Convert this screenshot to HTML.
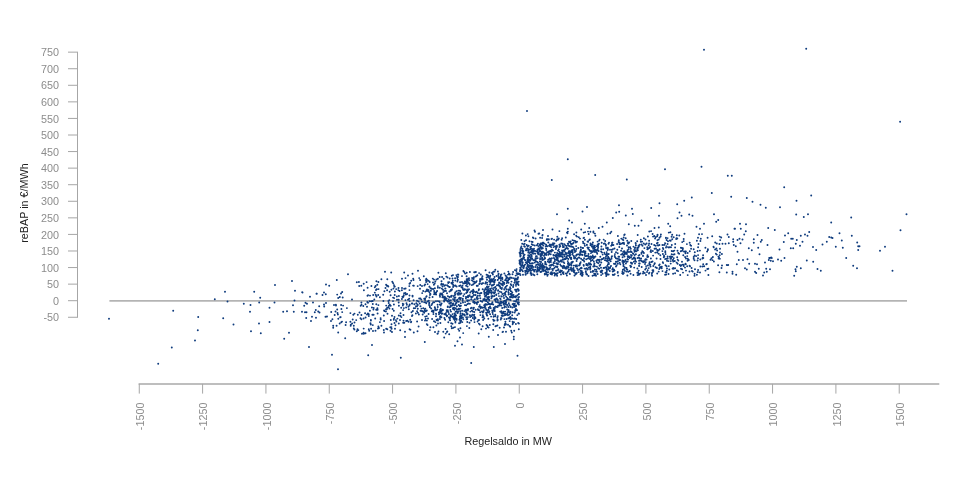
<!DOCTYPE html>
<html lang="de"><head><meta charset="utf-8"><title>reBAP vs Regelsaldo</title>
<style>html,body{margin:0;padding:0;background:#fff;}body{width:960px;height:480px;overflow:hidden;font-family:"Liberation Sans",Arial,sans-serif;}svg{display:block;}</style>
</head><body>
<svg width="960" height="480" viewBox="0 0 960 480">
<rect width="960" height="480" fill="#fff"/>
<g stroke="#a6a6a6" stroke-width="1" fill="none">
<path d="M77.5 52.15V317.27"/>
<path d="M68 52.15H78"/>
<path d="M68 68.72H78"/>
<path d="M68 85.29H78"/>
<path d="M68 101.86H78"/>
<path d="M68 118.43H78"/>
<path d="M68 135.00H78"/>
<path d="M68 151.57H78"/>
<path d="M68 168.14H78"/>
<path d="M68 184.71H78"/>
<path d="M68 201.28H78"/>
<path d="M68 217.85H78"/>
<path d="M68 234.42H78"/>
<path d="M68 250.99H78"/>
<path d="M68 267.56H78"/>
<path d="M68 284.13H78"/>
<path d="M68 300.70H78"/>
<path d="M68 317.27H78"/>
<path d="M138.6 383.9H939.3" stroke="#bebebe" stroke-width="2"/>
<path d="M139.27 383.9V393.6"/>
<path d="M202.60 383.9V393.6"/>
<path d="M265.93 383.9V393.6"/>
<path d="M329.26 383.9V393.6"/>
<path d="M392.59 383.9V393.6"/>
<path d="M455.92 383.9V393.6"/>
<path d="M519.25 383.9V393.6"/>
<path d="M582.58 383.9V393.6"/>
<path d="M645.91 383.9V393.6"/>
<path d="M709.24 383.9V393.6"/>
<path d="M772.57 383.9V393.6"/>
<path d="M835.90 383.9V393.6"/>
<path d="M899.23 383.9V393.6"/>
</g>
<path d="M109.4 300.9H907" stroke="#b4b4b4" stroke-width="1.9" fill="none"/>
<g font-family="'Liberation Sans', Arial, sans-serif" font-size="10.8" fill="#8c8c8c">
<text x="59" y="56.25" text-anchor="end">750</text>
<text x="59" y="72.82" text-anchor="end">700</text>
<text x="59" y="89.39" text-anchor="end">650</text>
<text x="59" y="105.96" text-anchor="end">600</text>
<text x="59" y="122.53" text-anchor="end">550</text>
<text x="59" y="139.10" text-anchor="end">500</text>
<text x="59" y="155.67" text-anchor="end">450</text>
<text x="59" y="172.24" text-anchor="end">400</text>
<text x="59" y="188.81" text-anchor="end">350</text>
<text x="59" y="205.38" text-anchor="end">300</text>
<text x="59" y="221.95" text-anchor="end">250</text>
<text x="59" y="238.52" text-anchor="end">200</text>
<text x="59" y="255.09" text-anchor="end">150</text>
<text x="59" y="271.66" text-anchor="end">100</text>
<text x="59" y="288.23" text-anchor="end">50</text>
<text x="59" y="304.80" text-anchor="end">0</text>
<text x="59" y="321.37" text-anchor="end">-50</text>
<text transform="translate(143.87 402.5) rotate(-90)" text-anchor="end">-1500</text>
<text transform="translate(207.20 402.5) rotate(-90)" text-anchor="end">-1250</text>
<text transform="translate(270.53 402.5) rotate(-90)" text-anchor="end">-1000</text>
<text transform="translate(333.86 402.5) rotate(-90)" text-anchor="end">-750</text>
<text transform="translate(397.19 402.5) rotate(-90)" text-anchor="end">-500</text>
<text transform="translate(460.52 402.5) rotate(-90)" text-anchor="end">-250</text>
<text transform="translate(523.85 402.5) rotate(-90)" text-anchor="end">0</text>
<text transform="translate(587.18 402.5) rotate(-90)" text-anchor="end">250</text>
<text transform="translate(650.51 402.5) rotate(-90)" text-anchor="end">500</text>
<text transform="translate(713.84 402.5) rotate(-90)" text-anchor="end">750</text>
<text transform="translate(777.17 402.5) rotate(-90)" text-anchor="end">1000</text>
<text transform="translate(840.50 402.5) rotate(-90)" text-anchor="end">1250</text>
<text transform="translate(903.83 402.5) rotate(-90)" text-anchor="end">1500</text>
</g>
<g font-family="'Liberation Sans', Arial, sans-serif" font-size="10.8" fill="#222">
<text x="508.2" y="444.8" text-anchor="middle">Regelsaldo in MW</text>
<text transform="translate(27.6 203) rotate(-90)" text-anchor="middle">reBAP in €/MWh</text>
</g>
<path d="M527.0 111.0h0M704.0 49.8h0M806.2 48.8h0M900.1 121.7h0M567.8 159.2h0M551.8 180.0h0M595.2 175.0h0M626.8 179.5h0M665.0 169.2h0M701.5 166.8h0M727.8 175.8h0M731.8 175.8h0M711.8 193.0h0M731.2 196.8h0M691.8 197.5h0M684.2 200.8h0M677.2 204.2h0M659.5 203.2h0M651.2 208.0h0M619.0 205.2h0M632.0 208.8h0M587.0 207.0h0M567.8 208.8h0M582.5 211.5h0M557.0 214.2h0M616.2 212.5h0M619.2 211.8h0M625.8 215.5h0M632.8 214.0h0M612.8 218.0h0M606.8 222.5h0M569.2 220.5h0M572.0 222.5h0M584.8 223.8h0M641.5 220.5h0M628.8 224.2h0M634.8 225.8h0M638.5 225.8h0M659.0 215.8h0M679.5 212.5h0M681.5 215.8h0M677.5 218.2h0M689.2 214.5h0M692.5 215.8h0M714.0 214.2h0M718.2 220.0h0M716.2 221.8h0M704.0 223.8h0M668.2 223.8h0M670.2 226.2h0M696.5 226.8h0M700.0 228.8h0M734.5 228.8h0M534.5 230.5h0M543.0 230.0h0M552.5 229.5h0M567.8 228.8h0M581.2 229.5h0M589.2 228.0h0M598.8 228.0h0M602.5 226.8h0M658.8 227.5h0M654.5 228.0h0M784.2 187.2h0M811.2 195.5h0M746.8 198.0h0M752.5 201.8h0M760.5 204.8h0M765.8 207.8h0M780.0 207.2h0M796.5 200.8h0M796.2 214.5h0M803.8 217.0h0M808.0 214.2h0M851.2 217.5h0M831.2 222.5h0M906.5 214.2h0M900.5 230.2h0M740.0 223.8h0M746.0 224.2h0M735.0 228.8h0M740.8 228.8h0M745.8 231.2h0M744.2 234.5h0M768.2 228.0h0M774.8 230.0h0M757.5 235.0h0M809.2 232.0h0M805.0 234.5h0M800.8 235.8h0M807.5 235.8h0M788.2 233.2h0M785.0 235.5h0M791.2 238.8h0M792.8 238.8h0M796.8 240.0h0M802.5 241.8h0M795.8 243.8h0M800.0 245.8h0M783.8 242.0h0M790.8 248.2h0M793.2 248.2h0M779.5 249.5h0M767.5 245.0h0M761.8 240.0h0M760.8 241.8h0M753.8 239.2h0M753.8 242.8h0M748.8 248.2h0M751.8 250.2h0M758.2 247.8h0M759.5 254.2h0M727.5 234.5h0M728.8 237.0h0M721.2 237.5h0M733.2 239.2h0M733.2 241.8h0M737.5 240.0h0M739.5 238.8h0M742.5 239.5h0M740.5 243.2h0M722.5 243.8h0M725.5 243.8h0M728.8 243.2h0M733.8 245.0h0M735.8 246.2h0M737.5 251.8h0M720.0 252.5h0M839.5 233.2h0M829.2 237.0h0M831.2 237.5h0M832.5 238.0h0M851.8 235.8h0M841.8 240.5h0M826.8 241.8h0M822.5 244.5h0M813.0 247.0h0M816.2 250.0h0M835.8 246.8h0M842.8 247.8h0M857.2 242.5h0M858.2 246.2h0M859.5 246.2h0M858.2 250.0h0M880.0 250.8h0M885.0 246.8h0M846.2 258.0h0M784.5 258.0h0M769.2 258.0h0M771.2 257.5h0M806.8 260.5h0M813.2 261.8h0M853.2 265.8h0M857.0 268.2h0M892.5 270.8h0M817.5 269.0h0M820.8 270.8h0M796.8 266.8h0M795.5 269.2h0M795.8 271.2h0M800.8 268.2h0M794.2 275.8h0M770.0 258.0h0M771.8 258.0h0M768.8 260.0h0M770.8 260.8h0M773.0 261.2h0M778.0 259.5h0M781.2 260.8h0M765.0 262.5h0M766.2 268.8h0M770.0 269.2h0M764.2 272.5h0M766.8 271.8h0M763.0 275.5h0M755.0 263.8h0M757.0 264.2h0M749.2 263.8h0M758.8 268.8h0M755.0 271.8h0M756.2 273.0h0M745.0 268.2h0M746.8 269.5h0M738.8 260.0h0M743.0 260.0h0M747.5 259.2h0M736.8 264.2h0M722.0 265.5h0M726.8 265.0h0M728.2 265.0h0M726.8 272.5h0M732.5 271.8h0M732.5 273.8h0M736.2 274.8h0M109.0 318.8h0M158.2 363.8h0M171.8 347.5h0M173.2 310.8h0M195.0 340.5h0M197.8 330.2h0M198.2 317.0h0M214.8 299.2h0M225.0 291.8h0M227.5 301.5h0M223.2 318.2h0M233.5 324.5h0M243.8 303.8h0M250.5 305.0h0M250.0 311.8h0M251.0 331.2h0M254.2 291.8h0M260.2 297.8h0M259.2 302.5h0M259.0 323.5h0M260.8 333.2h0M269.5 307.8h0M269.5 322.0h0M275.0 285.0h0M274.5 302.5h0M283.2 311.8h0M287.0 311.2h0M284.2 338.8h0M289.0 332.8h0M292.0 281.0h0M295.0 290.8h0M294.5 300.5h0M293.0 305.2h0M293.8 311.8h0M302.2 292.2h0M302.0 311.8h0M310.0 296.8h0M305.5 302.8h0M307.0 303.8h0M304.2 305.8h0M305.0 312.2h0M306.5 312.2h0M306.2 318.0h0M311.0 321.0h0M312.0 316.8h0M313.0 302.5h0M316.5 293.8h0M315.8 310.0h0M314.8 312.2h0M316.0 317.8h0M319.2 306.2h0M318.2 311.5h0M319.5 312.5h0M309.0 347.0h0M322.5 295.0h0M324.0 292.5h0M325.8 294.2h0M324.0 304.5h0M324.2 306.5h0M326.0 303.0h0M325.5 316.8h0M327.0 316.5h0M326.0 284.5h0M329.2 285.8h0M332.0 354.8h0M338.0 369.2h0M345.2 338.2h0M368.2 355.2h0M372.0 345.0h0M400.8 357.8h0M405.0 337.0h0M424.8 342.0h0M444.2 337.5h0M449.2 334.2h0M455.0 345.8h0M457.5 341.2h0M460.0 337.5h0M462.0 344.5h0M471.2 363.0h0M473.8 347.0h0M488.8 336.8h0M493.8 347.0h0M498.0 335.0h0M505.0 344.0h0M513.8 336.8h0M513.8 339.2h0M514.2 330.8h0M518.8 329.2h0M517.5 355.8h0M363.8 333.8h0M365.5 333.2h0M357.5 329.2h0M353.8 325.8h0M368.8 329.2h0M375.5 330.8h0M383.8 330.0h0M390.5 330.8h0M395.0 328.8h0M405.0 331.8h0M413.8 332.5h0M417.5 331.2h0M435.0 332.0h0M437.5 333.8h0M348.0 274.2h0M336.8 280.0h0M302.5 292.5h0M316.8 293.8h0M385.0 271.8h0M391.2 272.5h0M404.2 272.5h0M418.0 270.8h0M412.5 273.8h0M585.2 232.1h0M628.3 271.7h0M527.1 271.6h0M544.6 266.8h0M556.2 240.8h0M531.6 256.6h0M611.5 258.8h0M667.6 243.9h0M550.4 273.4h0M637.2 241.3h0M531.8 252.2h0M524.1 265.7h0M531.5 268.0h0M535.9 258.7h0M713.9 261.5h0M566.9 275.6h0M599.2 268.8h0M532.1 263.1h0M588.5 275.9h0M540.1 237.7h0M570.7 252.0h0M614.1 269.8h0M589.1 240.1h0M629.8 257.0h0M553.4 254.9h0M565.5 252.7h0M525.2 260.2h0M564.3 263.1h0M536.7 264.8h0M666.6 266.2h0M549.2 253.7h0M546.1 248.6h0M687.2 256.1h0M568.3 258.9h0M546.1 253.6h0M621.3 238.6h0M608.8 263.8h0M585.7 268.8h0M569.9 246.2h0M690.0 266.3h0M534.2 271.4h0M550.9 262.0h0M600.3 264.8h0M624.2 261.9h0M666.1 274.5h0M646.2 268.1h0M527.5 259.4h0M685.8 264.2h0M537.7 271.4h0M536.5 271.8h0M611.6 257.1h0M626.5 268.0h0M529.7 256.8h0M673.7 237.3h0M589.9 258.9h0M558.0 250.6h0M601.7 272.1h0M533.9 260.2h0M536.7 258.4h0M579.0 265.4h0M582.3 275.8h0M615.9 261.7h0M520.5 270.5h0M528.0 257.4h0M638.4 247.4h0M719.4 272.3h0M547.8 261.4h0M546.5 269.3h0M618.8 240.2h0M653.3 270.3h0M667.6 238.1h0M650.0 264.9h0M670.4 232.3h0M531.8 244.2h0M614.2 274.7h0M610.7 261.2h0M562.3 266.7h0M712.9 257.0h0M618.2 275.6h0M611.0 266.0h0M519.9 253.6h0M592.7 257.2h0M540.1 258.1h0M570.1 242.4h0M665.6 254.1h0M707.6 237.7h0M579.9 264.7h0M620.4 243.9h0M558.6 253.9h0M568.0 248.8h0M596.0 271.6h0M715.9 253.7h0M526.0 240.2h0M541.6 247.3h0M527.5 261.7h0M650.5 266.4h0M542.3 251.6h0M641.5 253.7h0M567.2 255.8h0M604.8 260.1h0M588.1 241.8h0M686.0 258.5h0M620.1 260.0h0M549.2 262.4h0M548.3 272.1h0M671.0 247.2h0M553.9 258.0h0M713.5 246.8h0M529.5 253.1h0M558.7 249.5h0M675.1 273.2h0M588.3 258.2h0M583.7 260.2h0M598.0 246.4h0M707.9 250.0h0M678.3 260.6h0M569.7 273.7h0M573.3 269.5h0M567.0 232.5h0M634.6 257.9h0M550.6 250.8h0M622.5 273.0h0M543.7 259.6h0M711.5 258.2h0M548.2 259.8h0M651.8 275.0h0M657.2 252.4h0M532.3 251.6h0M649.3 263.7h0M602.7 254.6h0M582.9 252.0h0M593.3 247.0h0M613.1 274.9h0M537.6 252.9h0M549.1 269.0h0M559.6 244.8h0M686.9 244.1h0M687.8 258.7h0M624.6 267.1h0M689.7 242.8h0M605.9 244.8h0M524.2 246.3h0M612.5 242.6h0M545.6 270.1h0M623.3 239.9h0M712.5 260.1h0M705.5 270.6h0M673.0 259.8h0M622.2 273.3h0M553.8 268.6h0M648.7 268.1h0M647.3 249.2h0M685.9 251.4h0M526.4 267.9h0M652.1 275.7h0M541.1 261.9h0M639.1 266.0h0M568.9 269.6h0M601.1 275.1h0M633.7 257.8h0M528.4 251.1h0M531.4 275.1h0M710.5 259.7h0M622.4 253.8h0M529.3 262.1h0M566.7 254.0h0M664.0 255.7h0M698.1 255.1h0M671.0 257.5h0M635.3 260.5h0M535.3 267.0h0M541.2 254.4h0M525.3 271.9h0M532.9 269.3h0M542.2 269.7h0M673.2 251.3h0M523.7 258.8h0M594.2 273.8h0M589.9 239.4h0M694.5 275.8h0M520.4 264.8h0M577.1 268.6h0M535.9 251.1h0M700.3 259.4h0M566.9 253.2h0M551.0 265.1h0M545.1 263.9h0M550.9 260.2h0M625.5 252.4h0M540.1 263.7h0M541.2 251.7h0M647.9 265.4h0M605.0 254.1h0M539.4 249.6h0M645.7 262.3h0M527.2 266.1h0M540.0 250.3h0M562.1 250.5h0M591.7 257.2h0M522.2 250.5h0M591.0 260.7h0M563.9 250.4h0M545.7 246.4h0M591.2 244.1h0M630.8 248.7h0M606.0 256.3h0M580.8 247.3h0M653.3 271.6h0M548.0 235.9h0M521.8 269.8h0M566.9 253.3h0M553.6 263.3h0M632.2 258.9h0M619.6 242.7h0M619.2 242.6h0M595.6 273.9h0M623.2 251.7h0M593.8 261.5h0M605.2 240.9h0M586.7 255.7h0M527.6 272.9h0M520.8 265.0h0M652.6 233.9h0M580.8 254.6h0M530.6 273.5h0M522.4 251.0h0M650.3 264.6h0M520.5 268.6h0M537.4 267.9h0M665.5 272.1h0M667.6 256.5h0M665.1 274.8h0M685.4 251.5h0M553.2 244.9h0M594.1 245.9h0M548.9 252.9h0M647.3 247.3h0M634.6 251.7h0M641.5 244.4h0M596.0 275.8h0M605.3 273.0h0M635.6 250.6h0M560.2 245.9h0M571.2 270.1h0M676.2 239.0h0M557.9 264.3h0M593.2 248.5h0M549.7 269.2h0M679.3 235.5h0M634.6 257.4h0M560.3 270.5h0M704.2 266.2h0M571.7 246.4h0M564.5 259.3h0M689.5 271.5h0M656.9 268.0h0M571.7 244.2h0M567.9 231.6h0M665.1 259.1h0M547.9 269.8h0M611.3 231.8h0M564.5 266.5h0M573.6 265.6h0M553.6 255.6h0M531.0 246.6h0M571.8 251.9h0M539.3 267.2h0M557.2 239.2h0M556.1 270.8h0M643.0 255.7h0M619.6 262.7h0M594.0 250.6h0M520.4 249.1h0M544.0 255.8h0M596.9 271.7h0M623.7 237.4h0M556.5 259.8h0M525.6 274.8h0M528.7 245.8h0M576.3 249.0h0M549.4 251.3h0M677.2 257.3h0M530.4 260.6h0M647.9 236.5h0M607.4 274.4h0M699.1 234.3h0M581.5 267.8h0M574.0 240.6h0M544.7 257.5h0M578.0 270.1h0M560.3 246.2h0M643.9 253.0h0M564.5 251.0h0M521.9 258.7h0M579.5 265.3h0M532.1 248.9h0M541.7 266.2h0M635.6 242.9h0M666.3 246.1h0M597.6 241.6h0M556.9 266.6h0M637.6 275.1h0M634.2 249.9h0M539.6 251.0h0M608.9 264.0h0M623.6 264.7h0M623.4 262.4h0M648.7 245.3h0M581.8 275.6h0M655.1 238.5h0M573.5 267.9h0M673.7 268.2h0M532.1 265.5h0M539.7 247.9h0M530.6 249.0h0M570.1 255.2h0M685.1 256.9h0M665.3 252.3h0M568.9 252.4h0M633.5 246.6h0M544.5 253.8h0M558.3 260.6h0M654.3 264.2h0M538.3 248.4h0M682.9 248.3h0M622.0 243.6h0M662.9 248.0h0M643.0 256.0h0M597.6 249.1h0M555.4 255.4h0M541.6 253.3h0M579.8 255.1h0M545.1 258.2h0M546.3 274.0h0M654.2 245.0h0M661.4 267.2h0M527.7 266.0h0M581.0 273.3h0M649.1 243.5h0M590.4 256.5h0M529.1 269.1h0M671.7 254.3h0M647.0 271.9h0M572.5 240.1h0M531.6 250.7h0M582.5 260.0h0M624.1 254.5h0M548.3 254.8h0M553.8 268.6h0M592.7 271.8h0M559.5 247.0h0M585.4 251.5h0M534.1 270.7h0M541.6 248.8h0M629.7 258.1h0M525.1 264.6h0M553.7 255.1h0M594.3 250.7h0M568.1 243.6h0M551.5 239.0h0M659.2 269.1h0M577.0 241.7h0M588.2 255.9h0M633.9 261.7h0M585.2 255.9h0M650.9 250.3h0M525.2 270.7h0M595.0 247.4h0M634.2 267.6h0M542.3 260.0h0M627.2 240.7h0M565.5 268.5h0M639.0 246.0h0M673.2 268.0h0M599.1 259.6h0M522.6 263.0h0M663.1 263.1h0M588.8 267.6h0M542.4 263.8h0M542.6 269.0h0M557.1 257.3h0M596.8 252.4h0M682.0 261.7h0M657.4 240.1h0M534.9 262.6h0M639.1 263.5h0M614.5 248.5h0M520.7 255.8h0M528.7 259.2h0M572.7 252.0h0M581.2 271.9h0M617.2 258.7h0M590.4 245.1h0M635.0 263.6h0M580.7 270.6h0M592.0 246.8h0M533.3 260.1h0M552.9 250.4h0M651.1 231.1h0M588.8 263.2h0M585.8 272.0h0M528.7 255.5h0M640.9 241.8h0M720.0 248.8h0M551.2 247.1h0M546.3 245.9h0M673.1 273.7h0M531.7 241.8h0M549.8 265.6h0M677.5 250.8h0M541.4 271.8h0M531.7 250.7h0M565.0 258.8h0M566.5 256.4h0M563.5 265.7h0M576.9 265.2h0M640.8 260.5h0M694.8 252.2h0M521.4 266.8h0M539.3 233.4h0M718.4 256.6h0M659.5 237.8h0M606.9 253.8h0M544.0 267.4h0M555.8 266.4h0M621.1 250.7h0M574.9 258.4h0M528.3 251.0h0M593.1 248.7h0M598.1 247.7h0M571.2 251.1h0M559.8 255.6h0M519.7 261.8h0M670.4 258.8h0M625.5 260.0h0M625.9 263.5h0M612.9 249.1h0M685.5 263.8h0M540.4 247.7h0M660.6 236.5h0M594.8 249.8h0M560.3 272.2h0M665.3 251.2h0M688.8 260.0h0M594.9 245.6h0M664.1 244.9h0M597.7 250.3h0M586.4 274.2h0M613.4 244.9h0M601.0 267.7h0M535.2 269.6h0M530.7 272.5h0M604.3 252.7h0M520.7 259.4h0M583.0 241.6h0M529.9 263.5h0M628.5 242.4h0M638.0 272.2h0M627.7 256.2h0M578.7 272.1h0M649.3 231.5h0M579.4 269.2h0M603.7 258.0h0M658.7 271.6h0M528.0 258.0h0M637.7 234.9h0M690.3 245.0h0M596.6 260.6h0M538.5 233.7h0M687.7 253.0h0M708.3 268.7h0M691.1 248.7h0M652.8 251.0h0M569.7 264.2h0M580.0 238.6h0M640.4 273.4h0M539.2 267.7h0M591.1 264.4h0M549.8 244.5h0M543.4 265.6h0M622.4 261.8h0M560.8 260.4h0M522.6 262.1h0M550.7 273.9h0M624.7 234.4h0M663.8 257.2h0M602.1 259.0h0M657.3 250.0h0M559.7 254.6h0M616.9 261.8h0M538.3 254.2h0M670.8 256.5h0M566.6 246.0h0M602.0 252.4h0M520.4 274.9h0M642.3 251.2h0M645.2 269.4h0M661.8 266.7h0M527.9 264.7h0M599.6 239.6h0M570.4 269.3h0M534.9 253.6h0M647.8 248.9h0M531.1 248.5h0M671.7 250.9h0M548.8 239.4h0M649.7 247.6h0M575.8 266.6h0M697.6 251.0h0M579.9 263.4h0M584.6 268.6h0M599.5 261.8h0M583.4 251.6h0M573.4 271.3h0M542.1 254.5h0M557.2 267.3h0M532.9 251.1h0M550.2 267.6h0M575.3 257.8h0M520.2 267.6h0M531.5 273.5h0M541.9 255.2h0M563.7 262.3h0M525.7 274.2h0M605.6 260.2h0M719.7 236.6h0M611.7 251.9h0M601.3 262.5h0M624.3 261.7h0M559.4 271.9h0M522.1 260.0h0M552.7 273.1h0M540.2 266.3h0M545.5 262.7h0M523.8 267.8h0M562.9 251.3h0M613.6 270.9h0M617.9 261.3h0M540.6 268.0h0M612.2 245.0h0M666.6 240.0h0M568.2 266.6h0M641.1 258.4h0M565.9 273.4h0M527.2 261.3h0M564.1 265.9h0M673.2 261.5h0M552.6 269.2h0M520.0 271.2h0M630.2 247.2h0M670.7 240.7h0M651.5 243.9h0M591.1 250.9h0M534.7 250.8h0M665.0 243.1h0M609.2 258.2h0M590.2 269.5h0M672.3 256.7h0M523.7 256.0h0M540.8 256.3h0M594.0 248.1h0M537.7 258.1h0M522.3 265.3h0M569.9 274.1h0M562.0 256.2h0M533.1 253.7h0M542.4 258.8h0M555.6 256.5h0M687.7 275.1h0M703.2 264.3h0M564.8 267.4h0M593.3 266.5h0M570.6 241.5h0M569.9 257.2h0M674.8 260.9h0M597.5 259.8h0M608.5 243.8h0M538.5 246.1h0M566.3 268.2h0M592.8 271.0h0M693.7 256.9h0M695.0 269.3h0M668.0 241.2h0M561.2 252.6h0M556.0 274.3h0M567.0 266.4h0M702.8 257.7h0M702.5 258.5h0M608.6 262.5h0M601.1 259.8h0M645.6 259.2h0M584.8 252.8h0M524.2 266.1h0M519.5 260.4h0M547.5 268.3h0M549.8 261.1h0M638.4 246.0h0M530.0 269.5h0M578.3 248.0h0M543.2 271.1h0M635.3 258.7h0M534.4 275.3h0M650.9 258.5h0M668.8 266.1h0M563.1 273.6h0M601.9 270.5h0M591.7 246.2h0M617.3 249.7h0M559.3 256.5h0M639.0 274.8h0M666.8 270.6h0M554.7 275.6h0M573.3 268.4h0M716.4 248.4h0M584.5 243.7h0M530.7 266.0h0M572.9 243.5h0M529.9 270.1h0M558.3 261.0h0M547.6 239.1h0M648.2 256.7h0M525.8 262.5h0M561.0 265.7h0M680.8 251.3h0M530.8 270.4h0M623.8 242.8h0M543.8 243.2h0M676.9 270.5h0M617.7 253.3h0M594.9 233.6h0M612.0 256.3h0M545.7 271.6h0M536.9 270.1h0M529.9 269.4h0M552.8 264.8h0M605.9 267.3h0M716.8 254.6h0M642.1 241.6h0M668.5 261.1h0M541.2 254.8h0M571.3 264.5h0M588.8 247.6h0M521.6 259.9h0M595.6 250.0h0M602.8 259.0h0M684.5 233.7h0M697.9 272.1h0M630.7 251.3h0M563.0 259.7h0M585.9 271.1h0M669.9 240.5h0M582.4 255.0h0M635.9 245.5h0M654.6 248.7h0M544.8 273.7h0M606.7 260.4h0M682.2 242.1h0M560.4 254.7h0M557.4 266.7h0M680.9 247.7h0M561.6 239.7h0M605.5 257.9h0M604.8 243.4h0M520.7 261.6h0M624.4 261.4h0M707.3 268.9h0M548.3 254.7h0M569.3 265.3h0M645.0 263.9h0M536.8 256.3h0M556.8 245.7h0M639.7 263.5h0M601.4 246.5h0M659.7 264.4h0M635.7 250.1h0M607.3 265.8h0M631.0 262.7h0M524.9 246.8h0M590.5 243.5h0M598.1 250.4h0M628.9 251.9h0M552.0 274.5h0M531.6 266.9h0M531.2 270.4h0M607.6 249.0h0M527.2 268.3h0M542.3 264.6h0M607.7 258.2h0M662.8 262.2h0M590.8 271.9h0M657.7 242.8h0M636.4 251.3h0M548.4 251.7h0M520.4 251.0h0M644.4 248.1h0M584.1 258.3h0M551.7 244.8h0M706.8 263.9h0M638.6 255.6h0M667.0 268.4h0M666.0 247.6h0M606.1 248.0h0M669.8 256.8h0M526.3 270.6h0M700.8 238.7h0M557.1 264.0h0M587.8 269.3h0M670.7 263.6h0M632.0 263.7h0M615.0 257.0h0M639.1 265.6h0M630.6 273.8h0M544.7 253.1h0M592.7 255.4h0M532.6 241.9h0M529.5 241.2h0M522.2 265.1h0M540.1 259.2h0M541.9 259.0h0M593.4 251.4h0M571.3 265.5h0M552.0 249.6h0M522.6 250.4h0M673.1 268.8h0M598.2 244.8h0M556.2 270.6h0M537.5 249.6h0M569.1 255.9h0M606.6 272.7h0M551.3 272.2h0M587.6 241.4h0M702.7 258.0h0M559.8 254.3h0M655.6 245.8h0M606.9 271.0h0M539.8 245.5h0M683.7 238.9h0M617.7 272.7h0M682.1 250.8h0M590.1 251.0h0M608.4 269.5h0M551.0 251.7h0M520.2 254.7h0M559.4 244.8h0M595.4 235.7h0M575.8 242.5h0M654.3 236.0h0M623.2 255.1h0M562.7 252.7h0M592.5 260.0h0M574.9 252.0h0M682.8 249.6h0M618.5 256.7h0M608.7 253.9h0M556.7 257.9h0M606.2 267.6h0M608.7 274.5h0M596.5 250.4h0M587.1 274.5h0M643.5 261.1h0M584.9 254.0h0M641.7 266.9h0M582.7 251.6h0M568.9 251.2h0M574.1 272.3h0M565.7 259.0h0M538.0 262.7h0M538.5 253.0h0M622.6 239.4h0M592.1 256.6h0M542.7 242.6h0M588.2 248.7h0M610.1 259.6h0M595.6 273.9h0M615.4 263.7h0M643.9 238.3h0M631.3 240.9h0M546.9 239.9h0M593.4 231.4h0M643.7 243.4h0M694.6 273.8h0M532.9 237.5h0M551.9 258.2h0M681.0 268.8h0M694.5 260.3h0M576.6 261.0h0M623.0 274.0h0M592.0 252.3h0M653.1 236.6h0M559.7 253.1h0M538.7 252.5h0M563.7 259.4h0M646.6 243.5h0M539.9 244.2h0M598.3 263.3h0M558.1 263.1h0M628.7 249.1h0M532.7 269.7h0M696.2 256.1h0M570.8 243.7h0M580.4 251.1h0M666.2 258.8h0M586.3 273.4h0M599.2 240.6h0M555.7 246.4h0M569.3 251.7h0M718.1 265.2h0M561.0 274.5h0M585.5 253.2h0M655.6 267.2h0M533.3 274.4h0M594.3 248.9h0M603.7 239.6h0M607.9 248.4h0M576.1 273.1h0M696.9 240.8h0M575.6 241.5h0M567.8 248.7h0M707.1 251.5h0M523.4 268.2h0M522.7 262.5h0M537.9 243.8h0M570.6 269.3h0M665.9 238.0h0M608.2 256.7h0M536.9 245.2h0M542.8 252.5h0M571.7 270.7h0M555.1 246.3h0M539.0 269.4h0M528.3 250.0h0M651.5 261.9h0M689.8 251.2h0M554.1 239.6h0M587.8 265.4h0M564.9 254.5h0M580.9 249.5h0M607.9 249.7h0M570.9 269.4h0M637.6 257.9h0M544.8 274.6h0M550.8 259.0h0M558.3 269.3h0M609.9 268.2h0M683.7 265.9h0M619.6 244.2h0M647.7 270.3h0M523.1 251.0h0M567.8 243.8h0M650.6 251.8h0M587.6 269.6h0M637.3 247.9h0M645.5 239.5h0M540.2 268.7h0M673.5 254.6h0M569.7 251.1h0M586.9 244.9h0M646.0 274.9h0M567.8 261.1h0M626.8 252.5h0M624.3 251.1h0M555.0 274.7h0M552.6 250.6h0M707.9 249.2h0M546.7 268.2h0M622.5 260.4h0M684.0 251.4h0M634.6 257.6h0M547.0 268.2h0M675.1 268.3h0M685.0 267.6h0M698.1 270.0h0M538.0 270.7h0M602.6 273.7h0M568.6 267.6h0M579.0 254.2h0M617.1 244.0h0M694.6 255.4h0M551.3 251.6h0M544.6 243.6h0M610.0 249.7h0M562.9 245.5h0M559.4 251.7h0M593.7 271.2h0M637.9 250.2h0M639.5 244.7h0M583.5 238.1h0M530.4 254.7h0M700.0 272.5h0M686.0 270.6h0M652.3 272.6h0M526.4 248.8h0M557.2 239.8h0M539.8 261.5h0M522.1 261.9h0M580.1 252.5h0M719.8 258.8h0M618.8 242.4h0M572.1 246.7h0M655.3 252.6h0M539.0 265.1h0M543.2 266.6h0M570.6 258.2h0M633.4 274.9h0M584.7 255.1h0M562.6 252.1h0M556.0 256.4h0M616.0 266.4h0M643.0 273.4h0M567.9 263.3h0M557.6 273.3h0M543.4 242.8h0M680.8 266.0h0M700.4 266.5h0M641.5 252.6h0M528.3 252.5h0M580.6 274.2h0M535.6 238.5h0M575.4 273.2h0M562.1 238.2h0M520.2 269.6h0M528.1 245.9h0M549.0 259.1h0M612.8 274.7h0M583.1 247.9h0M580.7 262.1h0M553.6 262.5h0M624.2 234.9h0M605.9 245.8h0M592.9 246.8h0M716.8 243.5h0M639.6 258.4h0M577.5 254.4h0M568.4 245.2h0M566.9 268.4h0M612.7 271.6h0M533.4 238.0h0M639.0 257.6h0M667.7 258.4h0M635.8 243.8h0M556.4 254.7h0M642.5 245.7h0M649.0 273.4h0M633.3 253.7h0M571.2 257.8h0M551.2 265.4h0M546.2 255.0h0M615.9 258.2h0M596.9 266.6h0M592.5 244.5h0M561.5 254.2h0M629.8 270.9h0M562.5 259.8h0M576.4 232.5h0M528.5 260.2h0M606.7 252.1h0M691.6 267.9h0M576.8 273.0h0M590.5 259.1h0M623.2 263.4h0M623.8 272.9h0M523.2 267.3h0M678.2 253.0h0M659.4 245.0h0M653.3 265.9h0M601.2 249.3h0M631.6 252.0h0M543.4 269.8h0M584.9 239.7h0M583.9 250.9h0M550.7 254.3h0M660.3 255.2h0M682.1 269.3h0M715.2 242.4h0M537.8 269.5h0M708.4 275.0h0M677.6 263.8h0M600.3 256.7h0M581.3 251.6h0M658.5 250.4h0M528.7 271.2h0M584.8 245.8h0M632.9 253.5h0M687.2 266.2h0M545.1 262.0h0M575.1 241.0h0M640.8 241.8h0M527.6 246.2h0M574.5 275.5h0M590.4 268.3h0M586.3 264.0h0M532.3 253.0h0M571.0 259.0h0M523.2 253.7h0M567.5 233.3h0M706.3 264.3h0M627.6 261.6h0M524.5 241.1h0M557.1 275.7h0M664.3 256.5h0M554.9 252.6h0M607.1 261.3h0M660.5 259.0h0M583.6 265.0h0M661.7 268.2h0M540.8 267.9h0M643.2 262.2h0M586.2 259.2h0M560.8 256.1h0M519.8 273.7h0M525.0 260.0h0M520.3 256.6h0M621.1 254.6h0M683.7 264.8h0M647.5 256.1h0M627.5 251.4h0M520.4 269.2h0M680.2 274.9h0M624.3 252.6h0M715.1 249.4h0M720.2 240.1h0M675.2 243.9h0M602.3 270.6h0M582.7 272.6h0M561.3 261.2h0M599.6 265.7h0M554.4 243.4h0M580.9 251.4h0M545.2 261.9h0M546.1 244.8h0M572.1 262.4h0M572.3 254.5h0M592.6 275.7h0M561.2 243.5h0M543.3 252.2h0M522.8 271.3h0M554.4 263.1h0M572.3 250.8h0M681.2 265.3h0M672.2 234.7h0M568.6 270.9h0M537.3 274.2h0M535.8 261.0h0M627.0 245.5h0M673.8 258.1h0M564.4 244.1h0M681.9 248.0h0M614.9 254.1h0M617.8 263.7h0M590.2 266.8h0M576.6 254.7h0M520.6 263.5h0M600.6 271.3h0M595.4 256.5h0M594.4 257.4h0M718.6 258.6h0M534.8 260.0h0M620.3 264.2h0M550.1 246.2h0M529.7 265.8h0M547.3 246.2h0M719.4 244.0h0M571.6 269.0h0M557.3 236.7h0M697.6 272.1h0M535.0 231.7h0M624.2 268.9h0M610.1 267.5h0M530.1 268.3h0M543.5 267.8h0M521.6 260.0h0M542.1 237.9h0M542.6 235.0h0M541.2 253.6h0M637.4 249.0h0M649.1 240.7h0M523.6 256.9h0M647.3 256.9h0M627.6 250.3h0M534.0 248.7h0M552.0 238.7h0M563.6 273.9h0M614.7 256.0h0M519.9 264.0h0M622.9 269.7h0M651.9 273.2h0M528.5 265.9h0M537.3 267.0h0M662.5 271.1h0M586.9 244.6h0M534.8 245.5h0M662.4 251.1h0M575.4 265.4h0M653.1 255.6h0M573.7 255.7h0M677.3 238.5h0M625.4 253.7h0M634.8 247.9h0M524.0 266.3h0M576.9 259.0h0M592.9 242.5h0M698.1 247.3h0M628.0 257.3h0M655.6 237.3h0M592.4 257.1h0M530.2 252.1h0M643.0 251.8h0M652.5 270.2h0M593.4 232.6h0M551.5 264.6h0M678.1 271.1h0M535.2 253.8h0M647.5 255.3h0M616.6 265.5h0M531.5 267.5h0M528.7 267.0h0M607.8 247.8h0M656.9 243.3h0M627.8 243.0h0M606.6 268.1h0M556.8 260.1h0M548.8 239.3h0M606.5 269.5h0M649.2 248.1h0M623.6 260.9h0M689.6 265.7h0M645.3 244.5h0M630.8 267.1h0M579.2 257.5h0M561.9 270.7h0M560.7 256.2h0M566.6 273.8h0M542.4 244.3h0M590.0 263.2h0M641.9 261.2h0M668.8 232.6h0M523.9 244.3h0M693.7 258.7h0M534.8 262.4h0M554.8 259.2h0M696.9 274.8h0M539.3 270.4h0M565.2 249.2h0M622.5 242.9h0M659.6 249.2h0M538.2 264.5h0M693.7 249.3h0M599.1 260.5h0M662.9 254.0h0M532.5 266.5h0M624.5 256.4h0M554.9 261.0h0M542.4 235.4h0M630.9 262.7h0M532.2 258.5h0M575.9 251.0h0M553.7 265.6h0M527.1 263.7h0M544.7 270.6h0M589.8 264.4h0M564.2 266.8h0M672.2 239.2h0M671.6 236.7h0M639.1 260.8h0M574.1 234.2h0M624.8 270.7h0M698.5 243.9h0M622.6 257.2h0M521.0 247.8h0M571.3 259.0h0M520.5 269.5h0M657.2 236.2h0M588.5 253.9h0M633.8 258.4h0M522.4 248.8h0M699.9 250.6h0M582.4 254.8h0M692.0 270.9h0M574.1 249.7h0M628.7 256.1h0M542.3 253.4h0M533.0 245.0h0M571.0 267.8h0M537.9 269.5h0M698.0 258.2h0M672.6 268.6h0M549.1 245.7h0M531.9 258.9h0M562.9 268.1h0M583.2 243.0h0M594.9 250.2h0M682.7 264.6h0M603.9 243.7h0M675.1 247.4h0M560.2 264.5h0M546.3 250.0h0M658.7 253.7h0M660.9 234.4h0M577.0 236.6h0M556.0 273.4h0M536.0 265.1h0M679.8 265.0h0M683.0 272.6h0M674.5 254.3h0M550.9 273.4h0M571.7 262.9h0M521.4 246.4h0M630.6 251.7h0M564.4 267.7h0M598.1 268.1h0M558.0 270.2h0M522.2 243.7h0M604.5 267.8h0M561.9 261.7h0M606.2 275.9h0M524.1 257.8h0M626.1 268.0h0M601.7 242.8h0M556.1 247.9h0M596.4 269.7h0M596.9 262.2h0M522.7 265.3h0M669.3 269.5h0M555.9 249.1h0M544.8 258.3h0M569.0 255.5h0M528.2 255.2h0M626.3 261.7h0M546.1 272.0h0M546.9 272.1h0M565.8 248.4h0M590.9 253.1h0M619.4 259.9h0M619.3 247.0h0M540.8 243.5h0M697.5 260.5h0M721.9 253.9h0M523.3 257.2h0M540.2 245.8h0M544.3 267.7h0M532.9 263.2h0M558.3 255.7h0M712.2 236.3h0M540.5 271.9h0M564.6 267.8h0M573.3 247.1h0M607.2 255.1h0M563.2 254.5h0M665.5 265.2h0M607.7 249.5h0M626.5 271.6h0M523.0 274.8h0M625.7 238.2h0M526.8 268.8h0M531.3 254.9h0M668.9 247.6h0M574.3 250.0h0M603.2 249.2h0M638.7 273.8h0M588.0 264.1h0M574.5 270.4h0M611.8 249.7h0M530.6 257.9h0M719.0 257.4h0M609.8 270.9h0M542.3 267.5h0M593.3 247.2h0M546.3 267.1h0M584.9 253.8h0M606.3 254.3h0M627.4 275.4h0M591.6 251.4h0M618.6 242.0h0M616.0 252.2h0M595.7 250.1h0M596.9 246.2h0M526.4 250.3h0M665.9 237.8h0M593.4 256.8h0M593.1 250.9h0M649.9 247.5h0M563.9 246.9h0M557.1 253.0h0M557.0 255.0h0M669.7 247.1h0M521.3 240.0h0M646.1 266.1h0M582.5 273.4h0M573.9 256.8h0M649.4 272.6h0M666.4 272.2h0M532.8 250.7h0M537.3 251.3h0M580.6 252.9h0M601.1 251.4h0M557.6 257.7h0M676.5 238.2h0M564.4 256.2h0M612.3 269.5h0M559.2 256.5h0M530.1 259.8h0M640.8 239.6h0M535.2 269.8h0M628.4 243.4h0M570.8 246.5h0M530.8 265.9h0M564.1 267.0h0M629.2 242.4h0M626.7 269.3h0M550.1 265.3h0M552.7 270.5h0M700.4 240.9h0M571.3 262.5h0M659.8 267.9h0M574.3 257.1h0M652.5 261.4h0M533.2 269.4h0M556.6 274.4h0M654.8 263.3h0M576.1 255.8h0M528.4 236.2h0M650.1 247.0h0M610.2 233.3h0M702.5 266.5h0M559.4 231.1h0M595.1 250.9h0M612.1 242.6h0M667.0 260.7h0M557.1 260.3h0M698.0 237.7h0M606.8 268.5h0M611.9 244.2h0M536.0 256.3h0M584.0 237.8h0M546.8 267.7h0M530.5 268.6h0M594.4 263.5h0M705.4 247.8h0M721.5 268.0h0M583.8 265.7h0M569.1 245.9h0M702.0 234.1h0M554.2 272.9h0M586.4 265.1h0M547.0 252.1h0M674.3 250.6h0M691.1 245.7h0M537.1 262.0h0M606.5 272.1h0M671.8 244.9h0M663.3 248.9h0M567.6 272.2h0M635.3 247.7h0M593.5 248.0h0M531.7 256.0h0M552.1 268.9h0M586.3 255.9h0M574.1 248.6h0M683.7 241.1h0M600.9 272.2h0M549.9 258.7h0M614.0 263.8h0M646.6 259.4h0M593.5 258.3h0M533.5 251.8h0M527.7 234.1h0M572.8 253.1h0M598.9 243.8h0M657.6 235.0h0M588.7 234.0h0M651.1 252.0h0M607.8 274.4h0M570.4 252.7h0M542.8 248.3h0M540.4 255.8h0M635.9 254.3h0M578.3 257.6h0M524.6 254.6h0M546.1 255.1h0M662.4 244.9h0M608.5 267.2h0M568.4 262.8h0M546.8 239.2h0M622.5 271.5h0M623.4 265.9h0M551.1 244.8h0M679.1 253.8h0M567.0 258.0h0M614.8 274.1h0M658.1 245.6h0M583.7 232.6h0M607.1 255.2h0M587.5 247.4h0M598.7 250.9h0M522.4 233.4h0M545.0 254.3h0M637.4 268.4h0M676.8 235.3h0M581.9 271.2h0M648.3 248.6h0M549.1 262.3h0M644.3 261.8h0M618.9 259.0h0M523.3 251.3h0M572.0 261.9h0M594.6 266.3h0M566.4 267.4h0M630.3 265.8h0M556.9 246.8h0M547.8 252.5h0M594.2 264.8h0M607.4 259.9h0M525.8 250.3h0M538.6 249.6h0M582.7 274.5h0M631.2 257.1h0M554.6 267.6h0M579.4 257.8h0M590.9 260.9h0M637.3 272.7h0M603.6 267.9h0M607.7 249.9h0M606.0 274.1h0M558.3 239.5h0M531.0 263.6h0M628.6 247.3h0M571.4 263.2h0M660.2 267.0h0M588.0 231.6h0M528.8 262.3h0M713.7 247.2h0M562.9 246.9h0M580.8 268.0h0M608.9 268.4h0M572.9 261.7h0M594.3 275.3h0M525.5 274.3h0M645.1 259.9h0M594.2 247.6h0M553.6 247.1h0M520.3 255.6h0M656.6 258.4h0M631.8 255.5h0M595.0 251.9h0M562.7 257.5h0M603.9 267.9h0M611.2 245.7h0M657.5 234.6h0M671.1 258.7h0M719.7 255.2h0M529.8 249.4h0M584.2 261.4h0M574.1 258.2h0M638.7 270.6h0M563.6 272.1h0M685.5 253.3h0M657.3 250.4h0M626.9 253.9h0M632.0 263.0h0M606.1 258.1h0M636.0 261.7h0M527.3 273.2h0M572.2 250.0h0M575.7 274.3h0M537.1 251.4h0M524.6 243.7h0M525.9 235.5h0M582.6 248.0h0M533.2 267.0h0M597.2 253.8h0M577.2 258.9h0M541.2 243.4h0M568.6 252.5h0M568.5 263.1h0M565.8 237.5h0M568.9 253.3h0M527.6 248.4h0M668.0 247.1h0M580.1 263.5h0M639.4 255.0h0M622.0 248.5h0M528.6 249.8h0M530.2 260.6h0M624.1 251.5h0M550.5 246.0h0M599.4 261.4h0M659.7 268.0h0M597.7 244.4h0M565.2 245.2h0M541.0 265.1h0M589.4 250.0h0M562.5 252.2h0M656.0 248.4h0M617.9 236.0h0M615.0 264.1h0M563.0 251.1h0M589.1 257.0h0M612.8 268.2h0M541.5 264.9h0M530.4 247.5h0M565.6 258.1h0M657.2 273.5h0M520.0 270.6h0M609.0 260.3h0M523.2 258.4h0M597.7 274.0h0M595.0 266.3h0M692.7 271.6h0M535.5 258.2h0M587.0 268.5h0M519.6 263.3h0M557.8 258.9h0M631.0 255.0h0M717.1 250.5h0M520.4 252.0h0M526.9 263.3h0M607.5 233.8h0M657.6 245.1h0M527.7 269.7h0M573.7 271.7h0M563.9 250.3h0M566.8 247.9h0M668.5 274.0h0M578.8 237.3h0M659.1 265.2h0M665.2 243.4h0M594.9 269.4h0M561.5 271.1h0M546.3 264.4h0M703.1 255.3h0M618.9 259.0h0M547.4 275.8h0M549.8 258.5h0M533.2 249.4h0M540.0 254.1h0M541.4 244.3h0M548.3 242.4h0M576.1 246.1h0M658.7 239.6h0M617.8 272.0h0M683.3 255.2h0M676.6 262.6h0M542.0 258.7h0M644.8 272.9h0M598.0 245.6h0M672.9 260.4h0M670.8 261.1h0M547.9 274.4h0M596.4 260.7h0M634.6 255.1h0M580.4 263.1h0M528.0 261.3h0M556.4 263.3h0M531.7 252.5h0M590.4 231.8h0M568.1 264.6h0M576.2 235.8h0M627.3 269.7h0M576.4 273.6h0M677.7 259.6h0M649.6 262.2h0M558.8 238.4h0M587.7 258.6h0M577.0 266.6h0M562.5 243.7h0M591.0 258.2h0M562.6 272.8h0M627.4 258.9h0M542.1 257.6h0M687.6 260.8h0M559.6 261.7h0M521.0 253.4h0M586.4 268.2h0M703.3 257.9h0M573.6 242.8h0M543.3 245.6h0M631.2 266.4h0M569.0 241.8h0M617.2 261.6h0M581.6 268.3h0M643.3 271.8h0M523.2 251.8h0M570.0 254.3h0M619.2 256.7h0M628.1 259.6h0M624.1 243.9h0M553.0 243.2h0M612.5 249.4h0M544.7 258.8h0M581.1 258.7h0M607.9 264.3h0M580.9 250.3h0M526.7 245.0h0M523.8 255.8h0M614.5 270.6h0M584.7 252.8h0M609.0 242.7h0M522.7 252.9h0M519.6 252.7h0M549.5 265.6h0M514.8 303.7h0M493.8 278.6h0M466.1 285.8h0M479.1 273.1h0M483.9 310.1h0M508.3 279.0h0M496.5 275.9h0M488.3 298.9h0M389.3 300.2h0M453.1 287.0h0M465.6 309.7h0M374.8 292.6h0M456.9 306.3h0M460.1 282.2h0M501.4 292.2h0M429.5 286.8h0M451.8 328.2h0M428.8 300.7h0M383.4 301.0h0M491.8 285.1h0M515.7 275.6h0M506.1 291.5h0M434.1 294.2h0M493.7 316.3h0M447.3 331.4h0M387.7 285.8h0M440.0 312.7h0M479.0 320.0h0M494.6 271.4h0M501.3 311.9h0M405.4 300.1h0M450.6 315.1h0M459.9 290.8h0M486.1 292.7h0M456.6 286.4h0M477.8 301.9h0M342.2 292.0h0M467.2 319.0h0M480.0 281.4h0M476.7 281.1h0M417.5 304.4h0M501.3 305.4h0M482.9 312.4h0M439.7 277.0h0M336.6 325.8h0M468.3 303.5h0M518.7 281.6h0M370.8 324.4h0M500.9 280.6h0M393.2 283.3h0M413.6 300.3h0M451.1 295.9h0M482.5 317.3h0M477.8 285.8h0M493.2 304.5h0M373.7 308.0h0M451.0 302.5h0M476.2 302.8h0M515.1 289.8h0M501.7 315.8h0M376.2 309.7h0M426.8 324.1h0M445.8 273.3h0M392.6 309.0h0M399.5 291.0h0M463.2 333.1h0M467.6 286.4h0M456.5 291.3h0M388.3 286.5h0M459.5 319.7h0M455.1 278.2h0M460.2 311.2h0M508.6 294.4h0M405.9 294.6h0M502.4 293.9h0M517.5 289.2h0M467.9 317.1h0M448.2 282.2h0M417.1 321.4h0M445.2 288.4h0M481.3 329.3h0M484.6 294.8h0M485.3 304.3h0M430.5 294.1h0M488.4 292.6h0M431.8 311.3h0M491.1 316.6h0M459.9 316.7h0M421.3 299.6h0M469.4 280.1h0M394.5 317.0h0M423.0 311.4h0M377.6 313.4h0M498.1 305.8h0M485.8 282.1h0M478.7 290.2h0M495.7 290.0h0M479.7 324.5h0M466.6 276.2h0M487.8 302.2h0M447.8 306.5h0M463.2 314.4h0M488.6 327.6h0M425.2 316.6h0M497.9 271.5h0M396.9 296.5h0M468.1 295.8h0M350.4 321.8h0M514.4 305.3h0M466.5 282.4h0M512.9 323.3h0M485.2 289.2h0M475.3 317.8h0M440.6 309.7h0M450.9 300.1h0M438.5 331.5h0M513.1 272.0h0M493.9 309.6h0M507.2 309.4h0M499.6 305.6h0M409.2 298.8h0M450.8 289.9h0M492.5 312.1h0M505.1 292.8h0M508.9 312.1h0M350.4 313.1h0M405.5 278.1h0M427.0 290.9h0M518.0 277.2h0M389.9 304.6h0M479.8 293.4h0M482.7 289.3h0M429.7 281.9h0M517.2 279.5h0M489.3 278.1h0M477.9 295.7h0M473.3 281.4h0M442.4 297.3h0M491.9 285.8h0M456.3 319.0h0M474.6 283.3h0M478.9 323.6h0M400.2 330.3h0M438.0 320.6h0M486.6 274.8h0M469.9 303.8h0M444.1 300.3h0M482.6 326.2h0M391.4 327.1h0M518.9 290.1h0M500.9 303.2h0M331.0 320.9h0M420.2 284.9h0M498.5 276.9h0M386.8 309.2h0M492.5 312.6h0M482.3 283.2h0M419.2 298.4h0M403.9 308.1h0M488.0 276.2h0M504.9 323.9h0M461.7 317.5h0M505.3 314.9h0M513.4 284.9h0M508.4 279.8h0M481.2 279.4h0M363.6 332.6h0M485.1 300.6h0M363.7 328.6h0M502.8 316.0h0M494.2 293.5h0M393.9 304.5h0M514.8 306.7h0M452.8 280.7h0M446.7 311.6h0M489.2 300.6h0M436.0 310.3h0M352.1 323.4h0M398.5 287.9h0M489.0 312.6h0M517.1 310.1h0M411.0 322.2h0M335.5 311.5h0M451.0 311.6h0M384.1 321.0h0M469.0 296.3h0M465.9 298.6h0M445.5 288.6h0M516.2 319.0h0M448.5 312.1h0M449.3 286.9h0M429.2 303.4h0M477.6 321.6h0M488.3 275.8h0M424.2 302.3h0M384.3 311.1h0M460.0 298.9h0M472.8 311.4h0M499.1 278.3h0M488.3 318.8h0M503.6 295.7h0M386.8 285.8h0M454.2 300.3h0M436.0 316.3h0M401.9 290.2h0M428.6 280.7h0M422.0 310.9h0M402.0 288.0h0M441.8 288.6h0M454.9 301.2h0M453.4 303.5h0M458.0 274.4h0M491.2 279.8h0M450.6 306.7h0M456.0 315.5h0M501.2 296.1h0M507.7 309.8h0M455.4 285.4h0M387.3 329.2h0M492.5 295.9h0M473.1 302.0h0M504.9 303.6h0M458.8 301.8h0M501.4 312.8h0M407.1 293.9h0M427.6 284.1h0M432.7 310.7h0M394.0 318.8h0M437.9 301.1h0M449.6 297.2h0M496.1 288.8h0M516.9 279.3h0M503.7 304.4h0M477.9 302.3h0M390.8 320.0h0M456.5 302.7h0M473.2 289.7h0M505.0 293.9h0M403.5 304.1h0M434.9 288.2h0M514.7 318.5h0M409.6 301.1h0M457.4 281.6h0M510.2 316.9h0M514.9 270.1h0M455.4 314.1h0M448.9 313.9h0M489.5 304.0h0M497.4 317.8h0M384.4 291.2h0M516.4 271.0h0M430.6 288.2h0M402.9 305.4h0M488.9 290.4h0M476.8 285.7h0M505.6 275.5h0M372.8 325.1h0M494.5 276.9h0M454.6 313.4h0M437.9 278.7h0M480.6 308.3h0M505.7 279.8h0M446.7 298.4h0M474.0 315.0h0M426.6 296.2h0M445.0 319.4h0M467.0 314.6h0M466.6 319.2h0M429.3 302.7h0M457.4 293.7h0M409.3 286.1h0M458.5 292.9h0M467.2 289.4h0M502.8 281.4h0M487.6 326.9h0M460.3 299.5h0M496.7 298.5h0M504.2 293.5h0M373.0 330.9h0M443.0 309.9h0M470.2 317.0h0M488.4 303.1h0M475.4 295.0h0M473.2 292.2h0M410.2 283.0h0M358.9 281.9h0M502.7 284.0h0M425.8 280.1h0M486.0 328.6h0M391.5 324.2h0M487.0 279.7h0M511.1 296.9h0M490.4 282.8h0M440.0 317.1h0M475.7 309.7h0M473.1 284.6h0M475.0 317.2h0M381.4 279.3h0M512.8 297.4h0M478.2 310.0h0M371.4 301.2h0M457.2 301.6h0M445.1 299.4h0M495.0 292.3h0M455.4 322.6h0M507.3 313.3h0M333.2 325.7h0M480.2 278.9h0M479.9 283.4h0M450.3 303.1h0M441.5 281.3h0M456.5 318.6h0M484.3 318.4h0M404.2 288.8h0M361.5 304.7h0M394.3 286.8h0M442.7 309.8h0M486.6 282.7h0M467.2 281.0h0M378.4 282.0h0M411.5 312.3h0M459.8 306.3h0M499.4 286.3h0M486.9 293.9h0M512.6 304.3h0M517.5 295.3h0M510.2 326.8h0M503.8 313.3h0M487.1 291.3h0M516.4 296.4h0M450.7 290.7h0M450.2 302.4h0M489.3 299.8h0M475.7 295.1h0M501.8 278.1h0M452.7 316.9h0M434.6 293.4h0M517.5 302.2h0M508.8 303.2h0M501.5 318.2h0M468.3 278.4h0M422.0 286.0h0M504.9 300.6h0M396.4 321.4h0M466.2 317.3h0M467.6 313.9h0M419.2 278.1h0M467.1 296.9h0M517.3 315.1h0M441.5 283.6h0M506.1 302.7h0M510.5 294.0h0M426.3 278.8h0M518.9 294.0h0M518.5 284.9h0M386.2 328.8h0M445.8 300.0h0M482.6 279.2h0M468.3 283.0h0M500.4 288.0h0M445.7 333.6h0M411.9 303.5h0M425.3 308.8h0M516.3 300.6h0M425.8 302.2h0M461.4 316.0h0M474.6 281.8h0M446.9 316.2h0M437.8 333.4h0M506.0 331.7h0M453.4 327.8h0M379.9 297.2h0M467.6 301.1h0M429.8 330.1h0M496.3 306.7h0M467.7 291.1h0M506.0 301.8h0M462.0 276.1h0M512.2 295.0h0M515.4 297.3h0M487.6 312.3h0M474.2 272.2h0M500.7 299.1h0M448.2 286.3h0M426.6 290.2h0M486.8 314.8h0M452.1 305.5h0M402.8 303.8h0M418.6 301.5h0M462.7 300.7h0M403.5 315.0h0M467.1 284.1h0M420.6 310.8h0M511.8 332.4h0M369.2 330.8h0M506.6 319.0h0M478.1 320.1h0M337.5 312.9h0M425.3 291.6h0M500.8 278.7h0M497.8 302.2h0M508.9 299.4h0M359.5 312.5h0M455.9 303.3h0M518.3 297.8h0M512.6 321.8h0M506.2 278.3h0M426.8 310.5h0M510.8 284.3h0M423.3 308.1h0M487.4 325.8h0M388.7 302.9h0M388.6 306.9h0M449.3 303.5h0M463.3 319.3h0M449.5 300.7h0M469.0 300.2h0M508.8 289.5h0M462.9 317.5h0M516.5 291.6h0M502.4 278.9h0M420.5 306.2h0M456.3 311.5h0M471.6 315.9h0M390.7 305.7h0M492.9 279.7h0M432.8 310.8h0M517.7 303.2h0M473.9 291.3h0M434.0 321.2h0M464.3 272.0h0M490.3 275.6h0M435.5 294.0h0M471.0 296.7h0M367.9 313.4h0M493.0 292.3h0M433.7 310.8h0M510.6 299.9h0M451.4 296.8h0M505.2 311.6h0M390.3 327.3h0M423.2 290.9h0M354.5 322.4h0M440.7 305.4h0M377.4 308.3h0M439.9 304.4h0M485.6 288.1h0M474.9 299.2h0M507.3 298.0h0M477.3 275.2h0M459.9 318.4h0M501.7 296.6h0M494.4 308.0h0M445.2 313.6h0M516.7 299.5h0M501.4 311.2h0M511.3 277.6h0M406.5 303.2h0M455.1 285.7h0M498.9 278.6h0M341.3 322.2h0M486.5 300.0h0M516.6 273.1h0M512.3 307.5h0M497.0 285.3h0M437.9 319.3h0M466.9 290.8h0M366.6 282.1h0M409.7 304.5h0M371.4 286.0h0M465.1 273.6h0M508.3 306.9h0M422.2 293.1h0M496.0 326.0h0M492.4 302.3h0M338.2 297.9h0M493.3 271.6h0M339.8 296.9h0M504.7 324.9h0M459.9 294.6h0M466.1 283.3h0M409.5 290.1h0M515.5 309.9h0M487.6 290.5h0M504.1 282.8h0M449.6 307.3h0M398.9 305.8h0M487.1 282.6h0M462.7 299.4h0M474.5 317.9h0M516.6 269.1h0M448.3 283.1h0M400.5 313.3h0M468.7 282.6h0M492.8 280.7h0M389.4 308.4h0M493.3 289.4h0M508.9 273.4h0M400.6 316.0h0M491.4 298.2h0M443.7 278.7h0M502.4 283.9h0M389.7 291.7h0M480.5 293.2h0M508.5 318.3h0M394.7 294.9h0M463.2 283.5h0M444.8 296.7h0M495.3 314.6h0M476.0 282.2h0M440.0 296.7h0M412.6 295.6h0M452.6 314.1h0M518.9 323.4h0M512.0 277.9h0M480.2 312.3h0M367.3 301.9h0M383.8 315.4h0M459.2 286.0h0M491.3 290.7h0M460.9 298.0h0M468.5 282.2h0M484.4 293.6h0M483.0 311.7h0M478.7 333.4h0M389.0 305.4h0M510.4 307.1h0M368.0 302.8h0M370.0 295.6h0M391.6 328.8h0M481.8 284.0h0M398.3 290.1h0M452.7 317.1h0M516.1 291.4h0M416.0 306.3h0M514.9 280.8h0M447.2 311.5h0M411.2 321.6h0M443.3 331.7h0M447.7 306.9h0M427.5 324.9h0M393.4 288.6h0M509.7 321.1h0M445.1 319.7h0M466.9 326.1h0M444.1 301.4h0M495.2 306.7h0M357.8 314.7h0M484.1 291.5h0M464.6 314.4h0M453.3 309.0h0M482.5 307.7h0M466.2 305.2h0M376.3 296.0h0M517.8 278.8h0M373.6 314.7h0M356.2 320.1h0M439.8 295.3h0M506.6 289.2h0M410.4 329.8h0M497.7 280.0h0M341.1 305.0h0M444.4 291.0h0M460.9 305.8h0M486.6 299.6h0M334.7 315.0h0M436.4 279.5h0M393.8 319.8h0M426.3 296.8h0M503.8 304.6h0M442.1 276.9h0M368.1 295.1h0M453.4 285.9h0M491.9 303.4h0M466.0 312.1h0M452.4 303.8h0M453.0 275.1h0M386.0 309.3h0M394.5 322.9h0M497.8 316.1h0M510.7 319.1h0M505.9 286.8h0M424.2 312.8h0M493.2 285.0h0M387.3 279.2h0M477.5 292.5h0M497.8 299.9h0M457.0 309.7h0M429.5 297.5h0M442.0 293.4h0M440.8 312.4h0M359.2 286.0h0M474.5 322.1h0M400.0 319.9h0M488.9 312.4h0M403.5 296.6h0M375.6 285.9h0M492.9 274.5h0M476.8 298.8h0M515.1 310.9h0M499.0 296.1h0M455.3 314.5h0M518.8 304.4h0M464.8 281.4h0M514.2 296.8h0M437.3 309.4h0M504.0 303.5h0M486.3 289.3h0M502.0 287.9h0M494.1 284.3h0M435.1 308.2h0M470.4 311.6h0M482.4 278.4h0M488.8 307.7h0M334.0 305.0h0M377.3 284.8h0M473.1 300.1h0M481.9 278.0h0M477.0 304.0h0M365.5 304.2h0M398.7 299.7h0M469.0 289.2h0M467.9 279.8h0M494.4 295.9h0M514.1 301.1h0M504.8 306.1h0M513.9 278.2h0M453.0 299.1h0M455.3 317.1h0M463.0 302.5h0M492.7 296.5h0M395.5 325.2h0M457.9 312.8h0M459.8 293.3h0M500.2 286.9h0M420.1 280.0h0M434.0 279.6h0M473.6 291.3h0M430.4 327.2h0M519.0 296.9h0M421.5 308.6h0M436.0 301.3h0M498.3 274.9h0M495.5 286.9h0M487.2 293.4h0M393.0 301.1h0M438.4 272.7h0M464.8 315.4h0M460.4 285.5h0M516.2 282.1h0M489.8 324.9h0M441.6 311.0h0M503.4 302.8h0M466.2 310.7h0M452.0 289.3h0M504.4 273.4h0M368.8 315.9h0M419.8 303.5h0M449.2 282.1h0M477.9 298.4h0M451.2 323.2h0M462.6 287.9h0M343.1 305.6h0M459.4 297.7h0M449.4 317.9h0M480.3 298.2h0M409.5 295.5h0M430.9 290.7h0M426.1 281.9h0M466.8 312.9h0M494.5 282.2h0M441.2 284.8h0M454.1 317.2h0M510.5 317.3h0M425.1 284.5h0M427.0 279.8h0M501.5 318.1h0M501.1 318.0h0M497.4 325.4h0M488.7 297.6h0M508.7 299.2h0M477.9 309.3h0M464.9 282.9h0M473.3 284.2h0M370.9 319.9h0M436.1 313.9h0M507.2 281.9h0M491.8 279.3h0M356.8 331.2h0M417.0 306.3h0M455.5 304.7h0M476.8 297.3h0M436.2 292.4h0M386.2 305.6h0M451.6 290.2h0M485.6 300.7h0M407.3 320.7h0M361.3 285.7h0M350.8 324.8h0M412.0 315.9h0M467.2 309.6h0M462.8 298.7h0M413.5 279.9h0M338.2 332.5h0M454.8 299.5h0M406.2 320.9h0M422.7 314.4h0M499.8 291.6h0M505.4 321.7h0M500.1 298.4h0M476.3 291.8h0M432.2 303.8h0M496.2 294.4h0M424.6 309.1h0M403.1 310.1h0M454.3 297.6h0M464.4 283.3h0M504.5 315.3h0M508.6 292.8h0M511.8 297.2h0M472.8 290.9h0M463.4 271.0h0M371.1 328.8h0M506.8 314.6h0M491.2 292.4h0M415.2 308.1h0M454.4 309.7h0M450.1 320.3h0M376.7 289.2h0M448.3 322.2h0M498.0 290.7h0M403.8 295.3h0M435.1 309.2h0M439.3 301.4h0M363.9 290.2h0M483.1 319.9h0M501.7 289.0h0M516.1 305.5h0M518.5 290.8h0M412.9 311.0h0M448.0 301.8h0M446.0 290.9h0M508.0 324.8h0M473.9 307.7h0M497.4 299.5h0M490.4 289.9h0M507.0 299.6h0M509.4 314.5h0M451.8 316.2h0M485.3 283.5h0M467.9 310.6h0M488.7 286.6h0M487.4 284.6h0M506.4 276.2h0M445.6 329.0h0M412.6 296.6h0M493.2 319.6h0M514.0 318.7h0M441.1 304.2h0M429.8 306.3h0M360.7 305.7h0M418.9 314.5h0M457.4 299.7h0M372.4 314.8h0M331.2 311.9h0M431.7 288.7h0M418.6 326.5h0M495.5 326.2h0M490.8 282.0h0M438.0 323.5h0M422.0 320.0h0M450.7 316.0h0M443.2 284.2h0M500.0 303.2h0M453.7 296.1h0M455.0 293.6h0M401.4 317.1h0M476.9 286.1h0M458.7 308.6h0M402.0 278.7h0M333.2 327.7h0M455.4 321.6h0M485.7 308.3h0M473.4 308.9h0M435.3 281.4h0M482.2 301.8h0M420.4 298.5h0M445.9 313.1h0M433.9 284.7h0M488.4 304.0h0M452.9 308.8h0M408.4 306.7h0M424.2 298.7h0M376.4 281.3h0M434.6 292.5h0M409.6 329.3h0M464.3 311.1h0M509.9 296.9h0M362.0 333.8h0M458.3 274.7h0M465.9 296.9h0M365.1 313.3h0M453.0 304.2h0M377.6 309.7h0M502.1 302.4h0M440.3 293.4h0M494.5 320.4h0M449.5 291.4h0M436.9 319.6h0M465.1 302.1h0M501.2 301.7h0M499.8 286.1h0M451.8 295.6h0M460.3 321.3h0M384.0 332.5h0M488.4 309.7h0M509.9 289.7h0M471.8 285.1h0M501.5 284.5h0M436.5 319.9h0M488.6 296.8h0M353.8 328.5h0M436.4 325.4h0M486.4 314.0h0M440.0 316.5h0M449.7 319.9h0M489.3 281.4h0M495.5 299.2h0M500.6 276.5h0M513.9 305.4h0M352.7 319.4h0M447.3 300.9h0M444.5 298.4h0M458.0 277.0h0M493.6 316.8h0M408.0 299.8h0M401.2 307.7h0M463.7 283.3h0M437.9 286.1h0M354.4 329.5h0M485.6 270.2h0M472.1 277.9h0M486.9 304.8h0M413.2 278.8h0M508.1 311.6h0M437.6 304.8h0M471.6 297.6h0M514.7 312.6h0M508.3 292.0h0M428.5 289.9h0M428.6 291.0h0M424.4 285.5h0M497.5 319.6h0M445.3 297.7h0M469.9 315.2h0M403.0 297.3h0M464.9 305.1h0M429.9 307.3h0M486.1 312.6h0M472.3 314.8h0M504.0 327.4h0M392.0 315.8h0M485.0 296.8h0M469.9 272.0h0M439.9 319.0h0M413.8 285.7h0M484.4 290.2h0M444.4 318.0h0M434.7 283.5h0M391.4 289.8h0M508.2 280.4h0M425.1 300.0h0M462.1 310.8h0M507.2 305.2h0M491.7 281.0h0M432.6 297.0h0M428.0 318.4h0M454.1 307.8h0M354.5 313.6h0M489.2 281.0h0M513.5 294.9h0M378.2 294.9h0M472.8 318.0h0M459.2 330.8h0M455.7 311.8h0M498.2 290.1h0M513.1 286.7h0M490.1 288.8h0M510.1 287.3h0M462.4 314.7h0M482.0 311.5h0M450.6 305.3h0M490.1 276.7h0M467.3 300.9h0M440.0 294.9h0M495.4 316.2h0M483.4 299.2h0M443.6 297.3h0M507.3 304.9h0M492.6 273.0h0M518.1 284.3h0M491.9 288.1h0M505.4 294.8h0M444.9 290.6h0M449.7 278.4h0M397.4 318.6h0M499.1 282.5h0M510.1 277.5h0M372.7 301.0h0M424.7 310.7h0M337.9 314.5h0M451.8 275.7h0M443.0 289.8h0M507.0 285.6h0M464.3 289.3h0M457.0 276.6h0M500.7 283.4h0M460.4 318.5h0M486.6 325.0h0M403.2 322.8h0M514.1 307.0h0M494.1 308.6h0M484.1 307.5h0M508.3 271.6h0M345.6 325.0h0M360.5 318.2h0M417.9 312.8h0M448.7 299.5h0M486.3 301.1h0M432.8 278.6h0M417.8 304.9h0M396.2 289.1h0M462.5 285.8h0M516.0 306.3h0M379.0 328.0h0M486.9 286.8h0M505.1 280.3h0M455.0 327.1h0M506.6 283.1h0M437.1 291.0h0M341.4 309.0h0M468.1 309.3h0M463.4 296.0h0M512.2 315.2h0M425.0 320.4h0M387.1 290.3h0M361.4 302.5h0M487.1 297.3h0M475.5 292.3h0M371.9 307.5h0M385.5 288.0h0M471.8 316.0h0M469.7 295.1h0M484.8 299.7h0M516.4 289.9h0M500.6 301.5h0M397.0 299.7h0M394.9 291.4h0M515.8 310.4h0M502.2 312.3h0M458.6 309.4h0M491.4 296.2h0M367.5 295.8h0M491.6 304.0h0M374.3 299.4h0M469.5 322.8h0M479.9 280.1h0M486.3 295.2h0M514.4 282.7h0M409.5 305.4h0M361.4 314.9h0M514.9 279.6h0M444.4 314.3h0M459.1 323.3h0M412.4 315.3h0M454.2 316.3h0M479.8 305.1h0M505.3 287.7h0M489.3 311.4h0M515.8 301.4h0M378.5 289.1h0M493.7 320.7h0M487.0 315.4h0M502.2 308.0h0M438.9 312.4h0M492.0 273.0h0M457.9 279.7h0M429.1 305.0h0M492.2 310.4h0M457.7 280.2h0M450.4 310.0h0M467.2 292.2h0M442.9 296.1h0M518.6 302.1h0M511.5 281.6h0M374.8 287.2h0M393.8 310.7h0M417.1 311.3h0M385.9 311.5h0M484.7 306.4h0M367.0 306.8h0M408.6 321.8h0M425.8 311.3h0M472.0 280.3h0M505.7 304.1h0M375.2 318.5h0M512.5 274.2h0M380.6 318.1h0M479.1 306.8h0M353.3 314.7h0M482.4 276.2h0M481.6 307.2h0M487.2 286.9h0M439.8 302.1h0M460.8 303.3h0M517.2 274.6h0M406.9 304.8h0M474.5 303.2h0M474.3 314.6h0M398.8 315.4h0M518.2 322.9h0M505.6 323.6h0M462.0 282.0h0M483.2 283.1h0M460.5 313.2h0M490.2 308.1h0M454.7 295.3h0M511.6 291.4h0M477.9 293.2h0M475.5 318.1h0M455.2 292.5h0M468.0 290.3h0M493.3 284.6h0M373.4 309.6h0M510.6 288.6h0M493.3 292.5h0M453.1 307.9h0M467.2 300.2h0M368.8 314.2h0M398.7 302.5h0M474.3 301.8h0M444.1 301.6h0M490.6 304.2h0M480.4 306.6h0M375.7 294.8h0M478.2 302.1h0M440.4 323.0h0M502.9 285.6h0M433.4 314.1h0M425.8 318.8h0M452.9 282.7h0M429.4 292.2h0M518.7 274.1h0M468.1 297.2h0M509.6 326.0h0M485.8 295.8h0M493.7 308.0h0M469.3 327.9h0M494.7 308.7h0M376.0 290.0h0M486.5 300.3h0M446.1 315.0h0M483.4 300.1h0M408.0 275.4h0M411.2 280.8h0M474.1 316.1h0M508.0 274.6h0M490.0 306.4h0M398.8 323.5h0M435.4 322.1h0M510.3 288.6h0M483.5 311.7h0M494.1 287.7h0M485.5 307.9h0M465.2 289.4h0M447.8 296.1h0M486.2 309.7h0M440.8 308.8h0M489.7 292.4h0M493.3 324.3h0M350.7 325.8h0M361.4 319.3h0M471.1 320.5h0M455.3 280.6h0M455.1 318.1h0M458.1 294.7h0M493.1 310.8h0M481.4 293.0h0M488.2 289.5h0M422.0 301.8h0M494.5 299.6h0M440.0 311.8h0M467.6 303.9h0M500.8 319.5h0M490.1 314.2h0M447.1 285.2h0M440.7 309.6h0M473.9 277.2h0M341.0 293.4h0M441.4 317.3h0M500.2 311.6h0M505.0 293.8h0M480.4 315.1h0M467.4 309.3h0M509.2 318.3h0M409.5 283.7h0M441.6 313.8h0M442.5 286.5h0M445.3 285.1h0M346.1 322.2h0M392.0 331.9h0M485.2 306.1h0M461.0 293.4h0M461.7 317.1h0M505.0 303.1h0M356.8 282.2h0M494.8 280.8h0M477.6 298.9h0M511.8 294.7h0M482.9 315.2h0M439.0 314.2h0M517.9 303.7h0M489.9 284.4h0M363.6 318.4h0M456.6 319.7h0M440.6 316.1h0M452.9 282.8h0M518.1 289.3h0M456.9 300.2h0M475.9 271.9h0M449.0 317.4h0M484.2 305.3h0M392.3 281.7h0M428.6 313.9h0M513.1 287.1h0M479.9 295.8h0M454.3 315.7h0M460.2 318.1h0M452.5 278.4h0M426.2 303.2h0M493.2 330.0h0M491.8 280.8h0M471.8 307.8h0M442.4 313.5h0M387.2 307.8h0M495.7 301.7h0M394.0 285.1h0M503.0 331.8h0M413.8 308.2h0M444.4 285.7h0M493.2 281.8h0M461.4 293.5h0M487.3 315.6h0M340.2 317.2h0M393.1 297.6h0M505.2 287.5h0M495.1 290.8h0M426.9 320.6h0M434.1 291.0h0M408.8 309.3h0M449.9 318.3h0M417.7 286.1h0M464.3 294.1h0M460.4 316.4h0M469.5 283.7h0M509.6 278.9h0M497.6 307.0h0M346.9 308.1h0M470.2 292.4h0M439.8 287.7h0M372.8 303.9h0M412.3 303.4h0M498.6 273.8h0M430.0 294.9h0M495.4 300.2h0M512.7 324.2h0M513.5 303.6h0M512.3 292.6h0M508.7 310.2h0M458.1 311.7h0M452.1 283.7h0M432.1 319.0h0M518.0 273.2h0M450.7 316.6h0M513.4 296.2h0M402.4 296.8h0M505.3 313.9h0M404.1 293.2h0M502.3 313.7h0M515.9 323.9h0M447.8 310.3h0M429.4 286.8h0M460.4 328.2h0M447.0 293.3h0M373.2 295.0h0M446.9 331.9h0M367.0 314.4h0M504.0 298.0h0M492.4 296.5h0M466.4 281.1h0M338.3 318.8h0M480.7 300.9h0M475.0 272.2h0M495.2 280.0h0M367.6 287.7h0M443.5 291.9h0M370.5 323.2h0M498.8 284.1h0M471.4 291.2h0M383.2 294.8h0M398.9 295.9h0M394.1 298.1h0M504.2 307.5h0M452.3 282.5h0M405.4 292.9h0M483.5 316.8h0M472.8 293.2h0M437.8 307.0h0M504.2 284.1h0M451.4 282.9h0M461.5 287.2h0M516.0 285.8h0M458.9 309.5h0M517.1 283.7h0M515.9 278.4h0M514.0 322.2h0M518.6 313.5h0M370.5 323.4h0M440.0 309.9h0M380.7 319.4h0M492.7 311.3h0M504.1 289.1h0M483.3 300.3h0M488.3 276.7h0M474.3 311.9h0M515.5 296.1h0M461.1 318.5h0M486.4 313.3h0M504.3 289.6h0M508.0 315.3h0M390.6 295.3h0M455.8 308.2h0M363.7 283.8h0M342.7 297.5h0M394.8 286.5h0M451.3 326.3h0M516.7 279.8h0M480.8 274.4h0M506.1 307.1h0M426.8 316.1h0M401.9 299.0h0M474.3 319.6h0M430.2 293.7h0M512.6 312.2h0M487.4 310.6h0M497.3 302.2h0M446.4 276.6h0M434.4 292.4h0M511.5 293.8h0M486.0 304.3h0M472.6 296.7h0M505.9 300.4h0M441.7 284.4h0M384.1 310.4h0M518.9 302.5h0M488.8 291.5h0M462.6 313.6h0M473.8 277.9h0M458.3 309.3h0M388.4 301.0h0M466.7 272.7h0M449.8 286.9h0M510.9 296.1h0M475.7 276.4h0M458.8 305.0h0M447.2 315.6h0M497.8 319.9h0M498.5 293.5h0M414.4 304.3h0M502.3 277.8h0M509.4 305.0h0M498.5 285.0h0M395.9 320.1h0M427.7 301.5h0M502.5 332.1h0M457.3 278.1h0M434.8 307.2h0M442.5 294.7h0M510.9 291.3h0M450.4 310.0h0M504.0 301.2h0M431.5 305.0h0M335.9 304.7h0M487.9 287.9h0M460.4 322.7h0M337.2 309.5h0M500.8 275.0h0M479.3 310.3h0M516.0 284.2h0M490.1 280.9h0M363.3 306.0h0M495.4 306.8h0M436.0 313.7h0M494.8 310.9h0M433.2 289.0h0M508.5 289.9h0M484.4 292.6h0M460.2 291.1h0M519.0 313.8h0M510.1 299.4h0M490.8 308.1h0M369.6 301.2h0M479.2 284.0h0M516.8 282.0h0M426.7 281.6h0M456.4 275.1h0M461.1 320.7h0M499.6 304.5h0M441.6 303.4h0M517.8 278.2h0M518.4 299.7h0M484.4 290.9h0M404.3 322.8h0M447.5 277.5h0M506.1 296.6h0M423.8 276.2h0M509.8 274.5h0M489.5 291.7h0M474.3 318.1h0M458.3 329.1h0M471.1 299.5h0M479.0 289.3h0M340.7 317.1h0M416.3 303.3h0M510.1 288.6h0M466.7 279.3h0M403.5 320.6h0M511.2 330.8h0M501.4 274.5h0M503.5 301.8h0M492.9 314.1h0M498.8 302.7h0M433.0 282.5h0M473.8 294.9h0M412.4 296.0h0M473.6 278.9h0M509.0 312.0h0M459.0 298.5h0M475.0 302.5h0M462.3 322.1h0M455.2 294.6h0M486.6 277.4h0M441.3 294.4h0M458.4 290.6h0M434.2 302.2h0M505.9 324.5h0M503.7 311.6h0M473.4 290.7h0M337.2 294.6h0M420.0 288.8h0M417.0 300.7h0M454.1 305.3h0M510.4 313.0h0M452.5 323.7h0M482.5 279.1h0M510.6 306.5h0M487.5 298.1h0M503.2 283.0h0M504.4 319.1h0M506.8 280.7h0M467.3 321.9h0M454.7 320.0h0M487.7 275.1h0M512.1 318.4h0M499.7 277.8h0M446.7 310.3h0M513.5 296.5h0M365.6 317.5h0M342.0 321.6h0M449.3 296.9h0M472.7 296.4h0M469.0 278.2h0M352.0 299.4h0M460.4 308.6h0M433.4 327.3h0M489.4 272.5h0M387.5 313.8h0M415.9 313.5h0M496.3 294.9h0M499.7 327.8h0M489.1 296.9h0M517.7 282.7h0M378.4 305.1h0M406.1 307.4h0M431.2 308.5h0M509.3 278.2h0M427.0 289.4h0M436.1 294.4h0M342.2 312.1h0M413.1 285.6h0M515.9 308.9h0M378.4 326.5h0M471.9 310.6h0M339.7 323.4h0M417.8 308.7h0M433.4 312.3h0M469.7 284.6h0M332.4 319.2h0M491.5 293.8h0M379.9 322.1h0M433.2 302.3h0M410.2 319.7h0M378.0 328.4h0M505.1 280.2h0M497.4 320.6h0M427.4 289.9h0M453.6 318.7h0M511.3 285.3h0M381.4 325.8h0M405.6 288.4h0M463.0 289.4h0M518.0 282.0h0M437.9 287.8h0M489.9 278.9h0M425.2 298.5h0M455.4 297.4h0M511.3 296.1h0M509.2 273.6h0M484.7 298.9h0M470.8 308.3h0M369.9 310.8h0M463.9 289.9h0M386.1 284.7h0M447.9 311.2h0M370.9 320.5h0M460.3 315.1h0M495.3 269.7h0M457.5 313.1h0M358.3 330.1h0M336.0 305.5h0M488.3 294.1h0M376.5 296.6h0M510.5 311.6h0M507.5 277.6h0M508.5 282.8h0M476.5 275.9h0M498.7 302.5h0M466.2 293.0h0M376.3 304.2h0M453.3 284.9h0" stroke="#0f3c7e" stroke-width="1.95" stroke-linecap="round" fill="none"/>
</svg>
</body></html>
